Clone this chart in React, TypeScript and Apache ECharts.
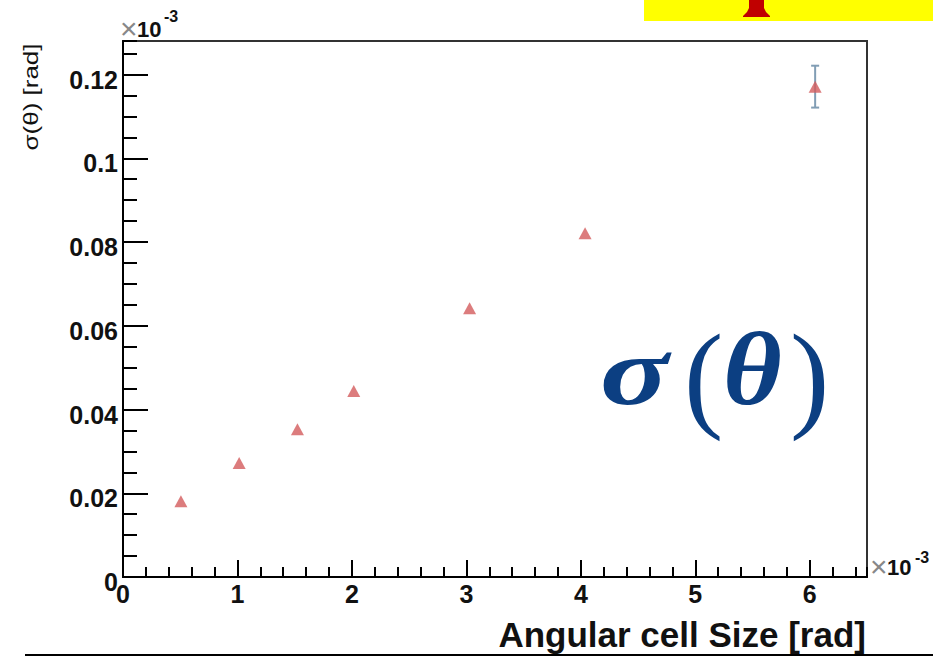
import React, { useEffect, useRef } from "react";
import * as echarts from "echarts";

// Angular cell size (units of 1e-3 rad) and the resulting angular resolution sigma(theta)
const cellSize = [0.506, 1.015, 1.524, 2.016, 3.028, 4.037, 6.047];
const sigmaTheta = [0.0181, 0.0272, 0.0353, 0.0444, 0.0642, 0.0821, 0.1171];
// only the last point has an error bar larger than its marker
const sigmaErr = [0, 0, 0, 0, 0, 0, 0.005];

// Axis ranges and tick labels (both axes in units of 1e-3)
const X_MAX = 6.5;
const Y_MAX = 0.128;
const xTickLabels = ["0", "1", "2", "3", "4", "5", "6"];
const yTickLabels = ["0", "0.02", "0.04", "0.06", "0.08", "0.1", "0.12"];

const SANS = "Liberation Sans, Arial, sans-serif";
const SERIF = "Liberation Serif, Times New Roman, serif";
const BLUE = "#0c3f82";

export default function App() {
  const ref = useRef<HTMLDivElement>(null);

  useEffect(() => {
    if (!ref.current) return;
    const chart = echarts.init(ref.current, null, { renderer: "svg" });

    const tickStyle = { color: "#000", width: 2 };
    const labelBase = {
      fontFamily: SANS,
      fontWeight: "bold" as const,
      fontSize: 25,
      color: "#111",
    };

    const option: any = {
      animation: false,
      backgroundColor: "#fff",
      grid: {
        left: 123,
        right: 66,
        top: 41,
        bottom: 79,
        show: true,
        borderColor: "#333",
        borderWidth: 2,
        backgroundColor: "transparent",
      },
      xAxis: [
        {
          type: "value",
          position: "bottom",
          min: 0,
          max: X_MAX,
          interval: 1,
          axisLine: { show: true, lineStyle: { color: "#000", width: 2 } },
          axisTick: { show: true, inside: true, length: 17, lineStyle: tickStyle },
          axisLabel: {
            ...labelBase,
            margin: 4,
            showMaxLabel: false,
            formatter: (v: number) => {
              const i = Math.round(v);
              return Math.abs(v - i) < 1e-9 && xTickLabels[i] !== undefined ? xTickLabels[i] : "";
            },
          },
          splitLine: { show: false },
        },
        {
          type: "value",
          position: "bottom",
          min: 0,
          max: X_MAX,
          interval: 0.2,
          axisLine: { show: false },
          axisTick: { show: true, inside: true, length: 10, lineStyle: tickStyle },
          axisLabel: { show: false },
          splitLine: { show: false },
        },
      ],
      yAxis: [
        {
          type: "value",
          position: "left",
          min: 0,
          max: Y_MAX,
          interval: 0.02,
          axisLine: { show: true, lineStyle: { color: "#000", width: 2 } },
          axisTick: { show: true, inside: true, length: 25, lineStyle: tickStyle },
          axisLabel: {
            ...labelBase,
            margin: 5,
            showMaxLabel: false,
            rich: {
              t: { ...labelBase, padding: [10, 0, 0, 0] },
            },
            formatter: (v: number) => {
              const i = Math.round(v / 0.02);
              return Math.abs(v - i * 0.02) < 1e-9 && yTickLabels[i] !== undefined
                ? `{t|${yTickLabels[i]}}`
                : "";
            },
          },
          splitLine: { show: false },
        },
        {
          type: "value",
          position: "left",
          min: 0,
          max: Y_MAX,
          interval: 0.005,
          axisLine: { show: false },
          axisTick: { show: true, inside: true, length: 14, lineStyle: tickStyle },
          axisLabel: { show: false },
          splitLine: { show: false },
        },
      ],
      series: [
        {
          type: "custom",
          xAxisIndex: 0,
          yAxisIndex: 0,
          z: 1,
          encode: { x: 0, y: [1, 2] },
          data: cellSize.map((x, i) => [x, sigmaTheta[i] - sigmaErr[i], sigmaTheta[i] + sigmaErr[i]]),
          renderItem: (_params: any, api: any) => {
            if (api.value(2) - api.value(1) <= 0) return null;
            const lo = api.coord([api.value(0), api.value(1)]);
            const hi = api.coord([api.value(0), api.value(2)]);
            const hw = 4;
            const style = { stroke: "#819db4", lineWidth: 2 };
            return {
              type: "group",
              children: [
                { type: "line", shape: { x1: lo[0], y1: lo[1], x2: hi[0], y2: hi[1] }, style },
                { type: "line", shape: { x1: lo[0] - hw, y1: lo[1], x2: lo[0] + hw, y2: lo[1] }, style },
                { type: "line", shape: { x1: hi[0] - hw, y1: hi[1], x2: hi[0] + hw, y2: hi[1] }, style },
              ],
            };
          },
        },
        {
          type: "scatter",
          xAxisIndex: 0,
          yAxisIndex: 0,
          z: 3,
          symbol: "triangle",
          symbolSize: [13, 12],
          itemStyle: { color: "#d35b5c" },
          data: cellSize.map((x, i) => [x, sigmaTheta[i]]),
        },
      ],
      graphic: [
        // banner strip at the top right
        { type: "rect", shape: { x: 644, y: 0, width: 289, height: 21 }, style: { fill: "#ffff00" }, z: 10 },
        {
          type: "polygon",
          shape: {
            points: [
              [749, 0], [764, 0], [764, 8], [766, 12], [770, 16], [770, 17],
              [743, 17], [743, 16], [747, 12], [749, 8],
            ],
          },
          style: { fill: "#c00000" },
          z: 11,
        },
        // rule under the axis title
        { type: "line", shape: { x1: 25, y1: 655, x2: 933, y2: 655 }, style: { stroke: "#000", lineWidth: 2 }, z: 10 },
        // y-axis title
        {
          type: "text",
          x: 31,
          y: 97,
          rotation: Math.PI / 2,
          scaleX: 1.3,
          style: {
            text: "σ(θ) [rad]",
            font: `20px ${SANS}`,
            fill: "#111",
            align: "center",
            verticalAlign: "middle",
          },
          z: 10,
        },
        // x-axis title
        {
          type: "text",
          x: 866,
          y: 634,
          style: {
            text: "Angular cell Size [rad]",
            font: `bold 35px ${SANS}`,
            fill: "#111",
            align: "right",
            verticalAlign: "middle",
          },
          z: 10,
        },
        // exponent on the y axis
        { type: "text", x: 120, y: 28, style: { text: "×", font: `30px ${SANS}`, fill: "#888", verticalAlign: "middle" }, z: 10 },
        { type: "text", x: 137, y: 29, style: { text: "10", font: `bold 22px ${SANS}`, fill: "#111", verticalAlign: "middle" }, z: 10 },
        { type: "text", x: 164, y: 16, style: { text: "-3", font: `bold 16px ${SANS}`, fill: "#111", verticalAlign: "middle" }, z: 10 },
        // exponent on the x axis
        { type: "text", x: 870, y: 566, style: { text: "×", font: `30px ${SANS}`, fill: "#888", verticalAlign: "middle" }, z: 10 },
        { type: "text", x: 887, y: 567, style: { text: "10", font: `bold 22px ${SANS}`, fill: "#111", verticalAlign: "middle" }, z: 10 },
        { type: "text", x: 915, y: 557, style: { text: "-3", font: `bold 16px ${SANS}`, fill: "#111", verticalAlign: "middle" }, z: 10 },
        // large sigma(theta) annotation
        {
          type: "text", x: 600, y: 371, scaleX: 1.3,
          style: { text: "σ", font: `italic bold 98px ${SERIF}`, fill: BLUE, verticalAlign: "middle" }, z: 10,
        },
        { type: "text", x: 684, y: 376, style: { text: "(", font: `118px ${SERIF}`, fill: BLUE, verticalAlign: "middle" }, z: 10 },
        {
          type: "text", x: 723, y: 369, scaleX: 1.1,
          style: { text: "θ", font: `italic bold 103px ${SERIF}`, fill: BLUE, verticalAlign: "middle" }, z: 10,
        },
        { type: "text", x: 790, y: 376, style: { text: ")", font: `118px ${SERIF}`, fill: BLUE, verticalAlign: "middle" }, z: 10 },
      ],
    };

    chart.setOption(option);
    return () => chart.dispose();
  }, []);

  return (
    <div
      ref={ref}
      style={{ position: "fixed", left: 0, top: 0, width: 933, height: 656, background: "#fff" }}
    />
  );
}
